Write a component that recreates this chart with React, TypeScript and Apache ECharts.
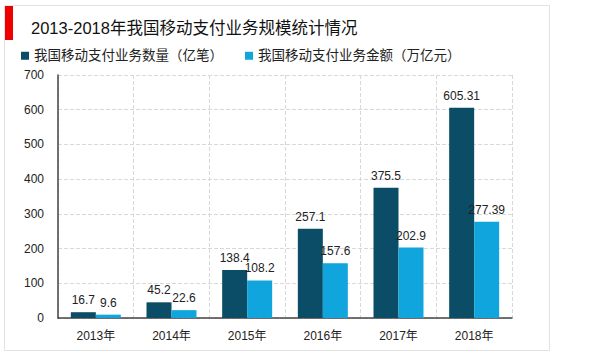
import React, { useEffect, useRef } from "react";
import * as echarts from "echarts";

const categories = ["2013年", "2014年", "2015年", "2016年", "2017年", "2018年"];
const countValues = [16.7, 45.2, 138.4, 257.1, 375.5, 605.31];
const amountValues = [9.6, 22.6, 108.2, 157.6, 202.9, 277.39];
const seriesNames = ["我国移动支付业务数量（亿笔）", "我国移动支付业务金额（万亿元）"];
const titleText = "2013-2018年我国移动支付业务规模统计情况";

const FONT = "'Liberation Sans', Arial, 'Noto Sans CJK SC', sans-serif";

export default function App() {
  const ref = useRef<HTMLDivElement>(null);
  useEffect(() => {
    if (!ref.current) return;
    const chart = echarts.init(ref.current, undefined, { renderer: "svg" });
    chart.setOption({
      animation: false,
      backgroundColor: "#ffffff",
      textStyle: { fontFamily: FONT },
      graphic: [
        {
          type: "rect",
          shape: { x: 4.5, y: 5.5, width: 545, height: 345 },
          style: { fill: "none", stroke: "#e2e2e2", lineWidth: 1 },
        },
        {
          type: "rect",
          shape: { x: 5, y: 6, width: 8, height: 34 },
          style: { fill: "#ee0000" },
        },
      ],
      title: {
        text: titleText,
        left: 26,
        top: 15,
        textStyle: { fontSize: 16.5, fontWeight: "normal", color: "#111", fontFamily: FONT },
      },
      legend: {
        left: 16,
        top: 44,
        itemWidth: 8,
        itemHeight: 8,
        itemGap: 22,
        icon: "rect",
        textStyle: { fontSize: 13.5, color: "#222", fontFamily: FONT },
        data: seriesNames,
      },
      grid: { left: 58, right: 88, top: 75, bottom: 36 },
      xAxis: {
        type: "category",
        data: categories,
        axisLine: { lineStyle: { color: "#444", width: 1.5 } },
        axisTick: { show: false },
        axisLabel: { fontSize: 12, color: "#222", margin: 12 },
        splitLine: { show: true, lineStyle: { color: "#d8d8d8", type: "dashed" } },
      },
      yAxis: {
        type: "value",
        min: 0,
        max: 700,
        interval: 100,
        axisLine: { show: true, lineStyle: { color: "#444", width: 1.5 } },
        axisTick: { show: false },
        axisLabel: { fontSize: 12, color: "#222", margin: 14 },
        splitLine: { show: true, lineStyle: { color: "#d8d8d8", type: "dashed" } },
      },
      series: [
        {
          name: seriesNames[0],
          type: "bar",
          data: countValues,
          barWidth: 25,
          barGap: "0%",
          itemStyle: { color: "#0b4d66" },
          label: { show: true, position: "top", fontSize: 12, color: "#222", distance: 6 },
        },
        {
          name: seriesNames[1],
          type: "bar",
          data: amountValues,
          barWidth: 25,
          barGap: "0%",
          itemStyle: { color: "#10a5dc" },
          label: { show: true, position: "top", fontSize: 12, color: "#222", distance: 6 },
        },
      ],
    });
    return () => chart.dispose();
  }, []);
  return (
    <div
      ref={ref}
      style={{ position: "fixed", left: 0, top: 0, width: 600, height: 354 }}
    />
  );
}
